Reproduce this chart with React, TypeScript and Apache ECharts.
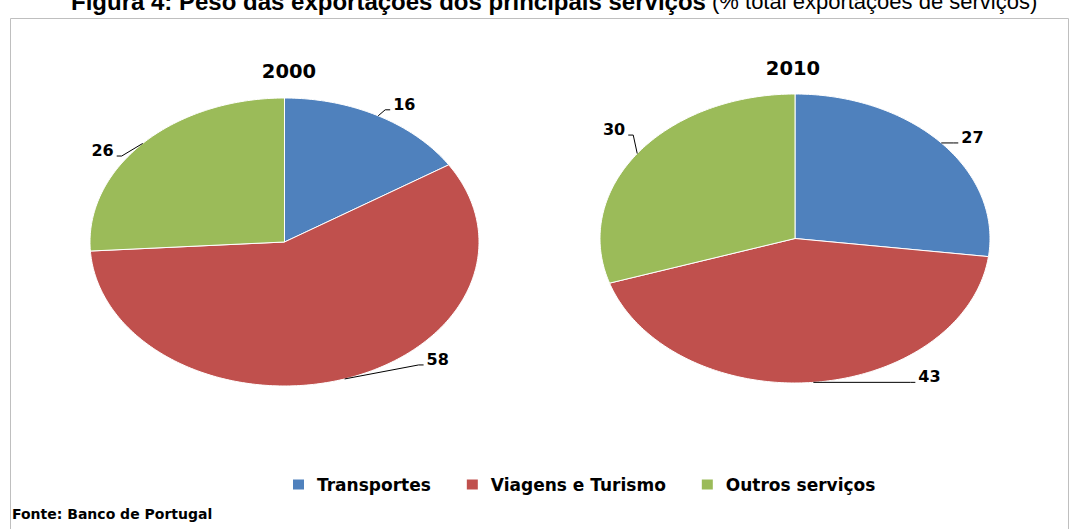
import React, { useEffect, useRef } from "react";
import * as echarts from "echarts";

// ---- data ----
const years = ["2000", "2010"];
const categories = ["Transportes", "Viagens e Turismo", "Outros serviços"];
const transportes = [16, 27];
const viagens = [58, 43];
const outros = [26, 30];
const seriesValues = [transportes, viagens, outros];

// ---- style / layout ----
const colors = ["#4F81BD", "#C0504D", "#9BBB59"];
const pies = [
  { cx: 284.5, cy: 242, rx: 194.5, ry: 144, titleX: 289, titleY: 72 },
  { cx: 795, cy: 238.5, rx: 195, ry: 144.5, titleX: 793, titleY: 69 },
];
// leader-line end offsets from the slice's edge midpoint: [year][category]
const labelEnds = [
  [[12, -6], [79, -14], [-26, 12.6]],
  [[17, 0], [102, 0], [-9, -18.5]],
];

function renderSlice(params: any, api: any) {
  const yi = params.dataIndex;
  const ci = params.seriesIndex;
  const pie = pies[yi];
  const total = seriesValues.reduce((s, arr) => s + arr[yi], 0);
  let before = 0;
  for (let k = 0; k < ci; k++) before += seriesValues[k][yi];
  const value = api.value(1);
  const a0 = (before / total) * Math.PI * 2;
  const a1 = ((before + value) / total) * Math.PI * 2;
  const pt = (a: number) => [pie.cx + pie.rx * Math.sin(a), pie.cy - pie.ry * Math.cos(a)];
  const n = Math.max(2, Math.ceil(((a1 - a0) * 180) / Math.PI));
  const points: number[][] = [[pie.cx, pie.cy]];
  for (let i = 0; i <= n; i++) points.push(pt(a0 + ((a1 - a0) * i) / n));
  const mid = pt((a0 + a1) / 2);
  const off = labelEnds[yi][ci];
  const side = off[0] >= 0 ? 1 : -1;
  const end = [mid[0] + off[0], mid[1] + off[1]];
  const elbow = [end[0] - side * 5, end[1]];
  return {
    type: "group",
    children: [
      {
        type: "polygon",
        shape: { points },
        style: { fill: colors[ci], stroke: "#ffffff", lineWidth: 1 },
      },
      {
        type: "polyline",
        shape: { points: [mid, elbow, end] },
        style: { stroke: "#000000", lineWidth: 1, fill: null },
      },
      {
        type: "text",
        x: end[0] + side * 3,
        y: end[1] - 5.5,
        style: {
          text: String(value),
          fill: "#000",
          font: "bold 16px 'DejaVu Sans'",
          align: side > 0 ? "left" : "right",
          verticalAlign: "middle",
        },
      },
    ],
  };
}

export default function App() {
  const ref = useRef<HTMLDivElement>(null);
  useEffect(() => {
    document.body.style.margin = "0";
    const chart = echarts.init(ref.current!, null, { renderer: "svg" });
    chart.setOption({
      animation: false,
      backgroundColor: "#ffffff",
      color: colors,
      title: [
        {
          text: "{b|Figura 4: Peso das exportações dos principais serviços}{r| (% total exportações de serviços)}",
          left: 71,
          top: -11,
          padding: 0,
          textStyle: {
            rich: {
              b: { fontFamily: "Liberation Sans", fontWeight: "bold", fontSize: 24, color: "#000" },
              r: { fontFamily: "Liberation Sans", fontWeight: "normal", fontSize: 22, color: "#000" },
            },
          },
        },
        ...years.map((y, i) => ({
          text: y,
          left: pies[i].titleX,
          top: pies[i].titleY - 11,
          padding: 0,
          textAlign: "center",
          textStyle: { fontFamily: "DejaVu Sans", fontWeight: "bold", fontSize: 19.5, color: "#000" },
        })),
      ],
      legend: {
        data: categories,
        left: 293,
        top: 476,
        padding: 0,
        icon: "rect",
        itemWidth: 11,
        itemHeight: 10,
        itemGap: 36,
        textStyle: {
          fontFamily: "DejaVu Sans",
          fontWeight: "bold",
          fontSize: 17,
          color: "#000",
          padding: [0, 0, 0, 8],
        },
      },
      graphic: [
        {
          type: "rect",
          shape: { x: 10.5, y: 18.5, width: 1058, height: 530 },
          style: { fill: null, stroke: "#bfbfbf", lineWidth: 1 },
          silent: true,
        },
        {
          type: "text",
          x: 12,
          y: 514,
          style: {
            text: "Fonte: Banco de Portugal",
            font: "bold 14px 'DejaVu Sans'",
            fill: "#000",
            verticalAlign: "middle",
          },
        },
      ],
      series: categories.map((name, ci) => ({
        type: "custom",
        name,
        coordinateSystem: "none",
        itemStyle: { color: colors[ci] },
        renderItem: renderSlice,
        data: years.map((_, yi) => [yi, seriesValues[ci][yi]]),
      })),
    });
    return () => chart.dispose();
  }, []);
  return <div ref={ref} style={{ width: 1074, height: 529 }} />;
}
